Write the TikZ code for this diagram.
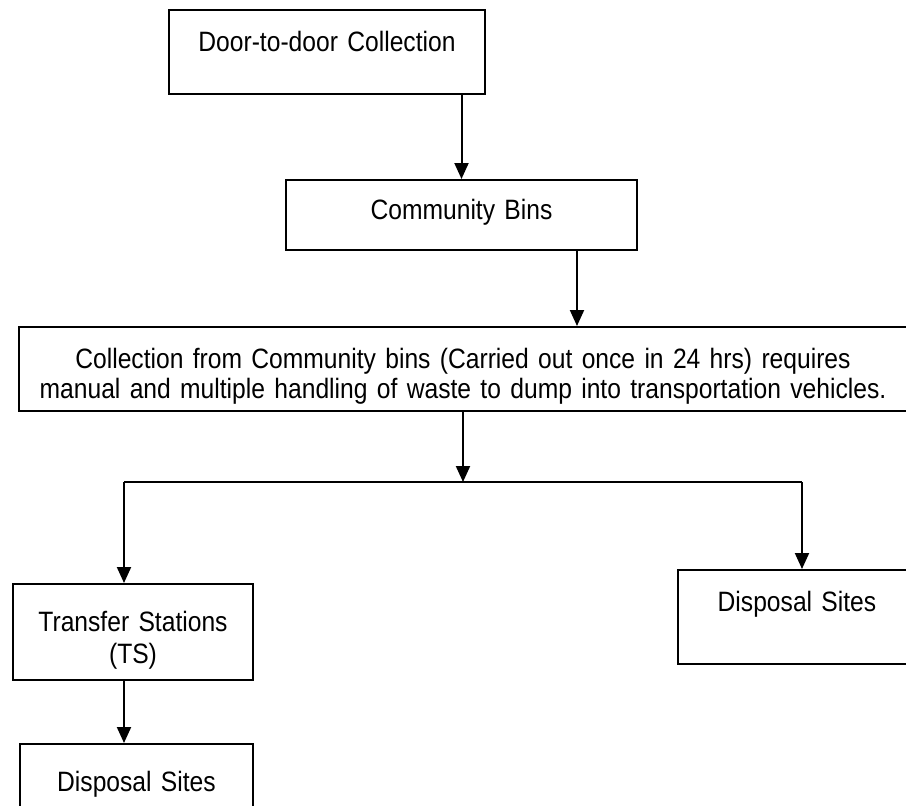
\documentclass[tikz,border=0pt]{standalone}
\usepackage{fontspec}
\setmainfont[FakeStretch=0.88, WordSpace=0.85]{Liberation Sans}
\usepackage{tikz}
\usetikzlibrary{arrows.meta}

\begin{document}
\begin{tikzpicture}[x=0.5pt, y=-0.5pt, line width=1pt,
        box/.style = {draw, anchor=north west, inner sep=0pt, align=center, font=\fontsize{14}{15}\selectfont},
        arr/.style = {-{Triangle[length=8pt, width=7pt]}}]
    \useasboundingbox (0,0) rectangle (906,805);
    \clip (0,0) rectangle (906,805);
    \node[box, text width=158pt, text height=20.5pt, text depth=21.5pt] (1) at (168,9) {Door-to-door Collection};
    \node[box, text width=175.5pt, text height=19.5pt, text depth=15.5pt] (2) at (285,179) {Community Bins};
    \node[box, text width=444pt, text height=20.5pt, text depth=21.5pt] (3) at (18,326) {Collection from Community bins (Carried out once in 24 hrs) requires\\ manual and multiple handling of waste to dump into transportation vehicles.};
    \node[box, text width=120pt, text height=23.5pt, text depth=24.5pt, font=\fontsize{14}{16}\selectfont] (4) at (12,583) {Transfer Stations\\ (TS)};
    \node[box, text width=119pt, text height=20.5pt, text depth=26.5pt] (5) at (677,569) {Disposal Sites};
    \node[box, text width=116.5pt, text height=23.5pt, text depth=25pt] (6) at (19,743) {Disposal Sites};
    \coordinate (a) at ([xshift=-30.5pt]2.south east);
    \coordinate (l) at (124,482);
    \coordinate (r) at (802,482);
    \draw[arr] (1.south -| 2.north) -- (2.north);
    \draw[arr] (a) -- (a |- 3.north);
    \draw[arr] (3.south) -- (3.south |- l);
    \draw (l) -- (r);
    \draw[arr] (l) -- (l |- 4.north);
    \draw[arr] (r) -- (r |- 5.north);
    \draw[arr] (l |- 4.south) -- (l |- 6.north);
\end{tikzpicture}
\end{document}
